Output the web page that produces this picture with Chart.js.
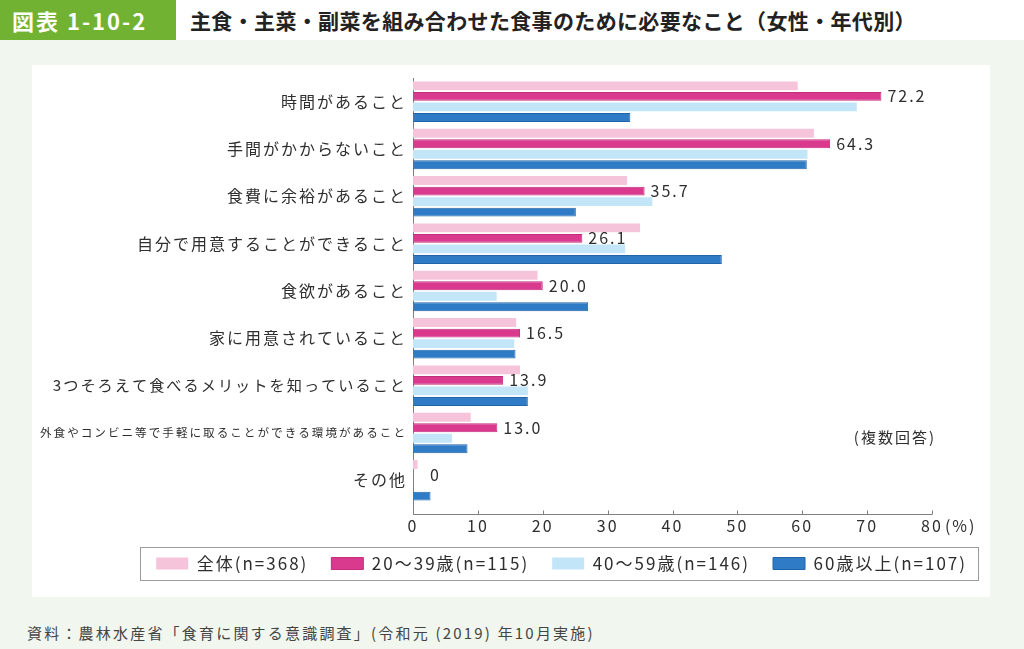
<!DOCTYPE html>
<html lang="ja">
<head>
<meta charset="utf-8">
<script src="https://cdn.jsdelivr.net/npm/chart.js@4/dist/chart.umd.min.js"></script>
<style>
  html, body { margin: 0; padding: 0; }
  body { width: 1024px; height: 649px; background: #f1f6ee; position: relative; overflow: hidden;
         font-family: "Noto Sans CJK JP", "Noto Sans", sans-serif; }
  #header { position: absolute; left: 0; top: 0; width: 1024px; height: 40px; background: #ffffff; }
  #tab { position: absolute; left: 0; top: 0; width: 176px; height: 40px; background: #72b232;
         color: #fff; font-weight: bold; font-size: 22px; letter-spacing: 2px; line-height: 40px;
         padding-left: 12px; box-sizing: border-box; }
  #title { position: absolute; left: 190px; top: 0; height: 40px; line-height: 40px; font-size: 21px;
           letter-spacing: 0.35px; font-weight: bold; color: #222; }
  #panel { position: absolute; left: 32px; top: 65px; width: 958px; height: 532px; background: #fff; }
  #panel canvas { display: block; }
  #footer { position: absolute; left: 27px; top: 622px; font-size: 15px; letter-spacing: 2.2px; color: #444; }
</style>
</head>
<body>
<div id="header"><div id="tab">図表 1-10-2</div><div id="title">主食・主菜・副菜を組み合わせた食事のために必要なこと（女性・年代別）</div></div>
<div id="panel"><canvas id="c" width="958" height="532"></canvas></div>
<div id="footer">資料：農林水産省「食育に関する意識調査」(令和元 (2019) 年10月実施)</div>
<script>
const categories = [
  '時間があること',
  '手間がかからないこと',
  '食費に余裕があること',
  '自分で用意することができること',
  '食欲があること',
  '家に用意されていること',
  '3つそろえて食べるメリットを知っていること',
  '外食やコンビニ等で手軽に取ることができる環境があること',
  'その他'
];
const seriesLabels = ['全体(n=368)', '20〜39歳(n=115)', '40〜59歳(n=146)', '60歳以上(n=107)'];
const totalValues  = [59.3, 61.8, 33.0, 35.0, 19.2, 15.9, 16.5, 8.9, 0.7];
const age20to39    = [72.2, 64.3, 35.7, 26.1, 20.0, 16.5, 13.9, 13.0, 0];
const age40to59    = [68.4, 60.8, 36.9, 32.7, 12.9, 15.6, 17.7, 6.0, 0];
const age60plus    = [33.5, 60.7, 25.1, 47.6, 27.0, 15.8, 17.7, 8.4, 2.7];
const xTickValues  = [0, 10, 20, 30, 40, 50, 60, 70, 80];
const unitLabel = '(%)';
const noteLabel = '(複数回答)';

const FONT = '"Noto Sans CJK JP", "Noto Sans", sans-serif';
const TEXT = '#2e2e2e';
const SPACING = '2px';

const spacingPlugin = {
  id: 'spacing',
  beforeUpdate(chart) { chart.ctx.letterSpacing = SPACING; },
  beforeLayout(chart) { chart.ctx.letterSpacing = SPACING; },
  beforeDraw(chart) { chart.ctx.letterSpacing = SPACING; }
};

const decorPlugin = {
  id: 'decor',
  beforeDatasetsDraw(chart) {
    const { ctx, chartArea, scales: { x } } = chart;
    const axisY = Math.round(chartArea.bottom + 10) + 0.5;
    const x0 = Math.round(x.getPixelForValue(0)) + 0.5;
    ctx.save();
    ctx.strokeStyle = '#808080';
    ctx.lineWidth = 1;
    ctx.beginPath();
    ctx.moveTo(x0, chartArea.top);
    ctx.lineTo(x0, axisY);
    ctx.lineTo(Math.round(x.getPixelForValue(80)) + 0.5, axisY);
    xTickValues.forEach(v => {
      const px = Math.round(x.getPixelForValue(v)) + 0.5;
      ctx.moveTo(px, axisY);
      ctx.lineTo(px, axisY - 4);
    });
    ctx.stroke();
    ctx.restore();
  },
  afterDraw(chart) {
    const { ctx, chartArea, scales: { x, y } } = chart;
    ctx.save();
    ctx.letterSpacing = SPACING;
    const meta = chart.getDatasetMeta(1);
    const zeroPx = x.getPixelForValue(0);
    ctx.font = '16px ' + FONT;
    ctx.fillStyle = TEXT;
    ctx.textAlign = 'left';
    ctx.textBaseline = 'middle';
    meta.data.forEach((el, i) => {
      const v = age20to39[i];
      const txt = v === 0 ? '0' : v.toFixed(1);
      ctx.fillText(txt, Math.max(el.x + 6, zeroPx + 17), el.y);
    });
    const w80 = ctx.measureText('80').width;
    ctx.fillText(unitLabel, x.getPixelForValue(80) + w80 / 2 + 2, x.top + 12 + 9.6);
    ctx.font = '15px ' + FONT;
    ctx.textAlign = 'right';
    ctx.fillText(noteLabel, chartArea.right + 4, y.getPixelForValue(7) + 4);
    const hb = chart.legend.legendHitBoxes;
    if (hb && hb.length) {
      const left = Math.min(...hb.map(h => h.left)) - 16;
      const right = Math.max(...hb.map(h => h.left + h.width)) + 11;
      const cy = hb[0].top + hb[0].height / 2;
      ctx.strokeStyle = '#9a9a9a';
      ctx.lineWidth = 1;
      ctx.strokeRect(Math.round(left) + 0.5, Math.round(cy - 16.5) + 0.5, Math.round(right - left), 33);
    }
    ctx.restore();
  }
};

const labelSize = i => (i === 7 ? 11.6 : i === 6 ? 15.2 : 16);

new Chart(document.getElementById('c'), {
  type: 'bar',
  data: {
    labels: categories,
    datasets: [
      { label: seriesLabels[0], data: totalValues, backgroundColor: '#f5c4da', borderWidth: 0 },
      { label: seriesLabels[1], data: age20to39, backgroundColor: '#d93a8d', borderColor: '#c42c7c', borderWidth: 1 },
      { label: seriesLabels[2], data: age40to59, backgroundColor: '#c3e5f8', borderWidth: 0 },
      { label: seriesLabels[3], data: age60plus, backgroundColor: '#2f7bc6', borderColor: '#2264a8', borderWidth: 1 }
    ]
  },
  options: {
    indexAxis: 'y',
    responsive: false,
    animation: false,
    events: [],
    categoryPercentage: 0.89,
    barPercentage: 0.84,
    layout: { padding: { left: 0, right: 0, top: 13, bottom: 15 } },
    scales: {
      x: {
        type: 'linear', position: 'bottom', min: 0, max: 80,
        afterFit: s => { s.height = 28; },
        grid: { display: false, drawTicks: false },
        border: { display: false },
        ticks: { stepSize: 10, padding: 12, color: TEXT, font: { size: 16, family: FONT },
                 callback: v => xTickValues.includes(v) ? String(v) : '' }
      },
      y: {
        type: 'category',
        afterFit: s => { s.width = 381; s.paddingTop = 0; s.paddingBottom = 0; },
        grid: { display: false, drawTicks: false },
        border: { display: false },
        ticks: {
          padding: 6, color: TEXT, autoSkip: false,
          font: ctx => ({ size: labelSize(ctx.index), family: FONT })
        }
      },
      rightPad: {
        type: 'linear', axis: 'y', position: 'right', display: true,
        afterFit: s => { s.width = 58; s.paddingTop = 0; s.paddingBottom = 0; },
        grid: { display: false, drawTicks: false },
        border: { display: false },
        ticks: { display: false }
      }
    },
    plugins: {
      legend: {
        position: 'bottom', align: 'end',
        labels: { boxWidth: 32, boxHeight: 12, padding: 23, color: TEXT, font: { size: 17, family: FONT } }
      },
      tooltip: { enabled: false }
    }
  },
  plugins: [spacingPlugin, decorPlugin]
});
</script>
</body>
</html>
